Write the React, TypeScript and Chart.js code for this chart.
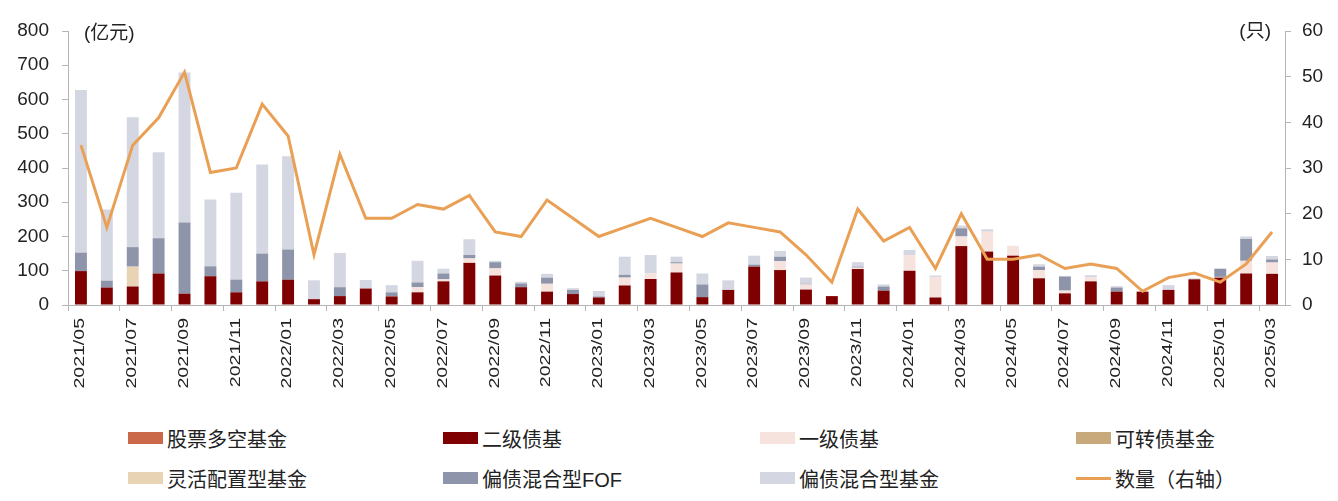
import React, { useEffect, useRef } from 'react';
import { Chart, registerables } from 'chart.js';

Chart.register(...registerables);

const categories = [
  '2021/05', '2021/06', '2021/07', '2021/08', '2021/09', '2021/10', '2021/11', '2021/12',
  '2022/01', '2022/02', '2022/03', '2022/04', '2022/05', '2022/06', '2022/07', '2022/08',
  '2022/09', '2022/10', '2022/11', '2022/12', '2023/01', '2023/02', '2023/03', '2023/04',
  '2023/05', '2023/06', '2023/07', '2023/08', '2023/09', '2023/10', '2023/11', '2023/12',
  '2024/01', '2024/02', '2024/03', '2024/04', '2024/05', '2024/06', '2024/07', '2024/08',
  '2024/09', '2024/10', '2024/11', '2024/12', '2025/01', '2025/02', '2025/03',
];

// 股票多空基金
const stockLongShort = [
  0, 0, 0, 0, 0, 0, 0, 0, 0, 0, 0, 0, 0, 0, 0, 0, 0, 0, 0, 0, 0, 0, 0, 0,
  0, 0, 0, 0, 0, 0, 0, 0, 0, 0, 0, 0, 0, 0, 0, 0, 0, 0, 0, 0, 0, 0, 0,
];
// 二级债基
const secondaryBond = [
  99, 51, 54, 92, 33, 84, 37, 69, 74, 17, 26, 48, 25, 37, 69, 123,
  86, 52, 39, 32, 22, 57, 76, 95, 23, 44, 112, 102, 45, 26, 105, 42,
  100, 22, 172, 156, 144, 78, 34, 69, 39, 39, 44, 75, 80, 92, 91,
];
// 一级债基
const primaryBond = [
  0, 0, 0, 0, 0, 0, 0, 0, 0, 0, 0, 0, 0, 15, 6, 13,
  21, 0, 23, 0, 0, 23, 16, 26, 0, 0, 0, 26, 15, 0, 4, 0,
  46, 59, 28, 58, 29, 24, 8, 12, 0, 0, 0, 0, 2, 37, 33,
];
// 可转债基金
const convertibleBond = [
  0, 0, 0, 0, 0, 0, 0, 0, 0, 0, 0, 0, 0, 0, 0, 0, 0, 0, 0, 0, 0, 0, 0, 0,
  0, 0, 0, 0, 0, 0, 0, 0, 0, 0, 0, 0, 0, 0, 0, 0, 0, 0, 0, 0, 0, 0, 0,
];
// 灵活配置型基金
const flexibleAllocation = [
  0, 0, 58, 0, 0, 0, 0, 0, 0, 0, 0, 0, 0, 0, 0, 0, 0, 0, 0, 0, 0, 0, 0, 0,
  0, 0, 0, 0, 0, 0, 0, 0, 0, 0, 0, 0, 0, 0, 0, 0, 0, 0, 0, 0, 0, 0, 0,
];
// 偏债混合型FOF
const bondMixedFof = [
  54, 20, 57, 103, 208, 29, 37, 81, 88, 0, 26, 0, 12, 14, 17, 10,
  18, 11, 18, 12, 3, 8, 0, 4, 37, 0, 6, 13, 2, 0, 3, 12,
  0, 0, 24, 0, 0, 10, 41, 0, 12, 0, 0, 0, 24, 64, 9,
];
// 偏债混合型基金
const bondMixedFund = [
  475, 208, 379, 251, 438, 195, 254, 260, 272, 55, 100, 25, 21, 63, 14, 46,
  4, 5, 11, 5, 16, 53, 54, 16, 32, 28, 26, 17, 18, 0, 13, 6,
  15, 5, 8, 7, 0, 7, 2, 6, 4, 0, 14, 3, 0, 7, 10,
];
// 数量（右轴）
const fundCount = [
  35, 17, 35, 41, 51, 29, 30, 44, 37, 11, 33, 19, 19, 22, 21, 24,
  16, 15, 23, 19, 15, 17, 19, 17, 15, 18, 17, 16, 11, 5, 21, 14,
  17, 8, 20, 10, 10, 11, 8, 9, 8, 3, 6, 7, 5, 9, 16,
];

const leftTicks = [0, 100, 200, 300, 400, 500, 600, 700, 800];
const rightTicks = [0, 10, 20, 30, 40, 50, 60];
const leftUnit = '(亿元)';
const rightUnit = '(只)';

const FONT = '"Liberation Sans", Arial, "Noto Sans CJK SC", sans-serif';

const seriesMeta = [
  { label: '股票多空基金', color: '#C9694A', data: stockLongShort },
  { label: '二级债基', color: '#7E0000', data: secondaryBond },
  { label: '一级债基', color: '#F6E3DE', data: primaryBond },
  { label: '可转债基金', color: '#C8A97C', data: convertibleBond },
  { label: '灵活配置型基金', color: '#E8D3B4', data: flexibleAllocation },
  { label: '偏债混合型FOF', color: '#8E94AA', data: bondMixedFof },
  { label: '偏债混合型基金', color: '#D4D7E1', data: bondMixedFund },
];
const lineLabel = '数量（右轴）';
const lineColor = '#E9A055';

const unitLabelPlugin = {
  id: 'unitLabels',
  afterDraw(chart: any) {
    const { ctx, chartArea } = chart;
    ctx.save();
    ctx.font = `19px ${FONT}`;
    ctx.fillStyle = '#222';
    ctx.textBaseline = 'middle';
    ctx.textAlign = 'left';
    ctx.fillText(leftUnit, chartArea.left + 16, chartArea.top + 3);
    ctx.textAlign = 'right';
    ctx.fillText(rightUnit, chartArea.right - 14, chartArea.top + 1);
    ctx.restore();
  },
};

// Draws the rotated category labels (every second month), slightly stretched along the reading direction
const xLabelPlugin = {
  id: 'xLabels',
  afterDraw(chart: any) {
    const { ctx, chartArea } = chart;
    const xs = chart.scales.x;
    ctx.save();
    ctx.font = `15.5px ${FONT}`;
    ctx.fillStyle = '#222';
    ctx.textAlign = 'right';
    ctx.textBaseline = 'middle';
    categories.forEach((lab, i) => {
      if (i % 2 !== 0) return;
      const x = xs.getPixelForValue(i);
      ctx.save();
      ctx.translate(x - 1, chartArea.bottom + 13);
      ctx.rotate(-Math.PI / 2);
      ctx.scale(1.26, 1);
      ctx.fillText(lab, 0, 0);
      ctx.restore();
    });
    ctx.restore();
  },
};

export default function App() {
  const canvasRef = useRef<HTMLCanvasElement | null>(null);

  useEffect(() => {
    if (!canvasRef.current) return;
    const datasets: any[] = seriesMeta.map((s) => ({
      type: 'bar',
      label: s.label,
      data: s.data,
      backgroundColor: s.color,
      borderWidth: 0,
      stack: 'main',
      yAxisID: 'y',
      order: 1,
      barPercentage: 0.46,
      categoryPercentage: 1,
    }));
    datasets.push({
      type: 'line',
      label: lineLabel,
      data: fundCount,
      borderColor: lineColor,
      backgroundColor: lineColor,
      borderWidth: 3,
      pointRadius: 0,
      tension: 0,
      yAxisID: 'y1',
      order: 0,
    });

    const chart = new Chart(canvasRef.current, {
      type: 'bar',
      data: { labels: categories, datasets },
      options: {
        animation: false,
        responsive: false,
        layout: { padding: { top: 31, left: 0, right: 0, bottom: 0 } },
        plugins: {
          legend: { display: false },
          tooltip: { enabled: false },
        },
        scales: {
          x: {
            stacked: true,
            offset: true,
            afterFit(scale: any) {
              scale.height = 105;
            },
            grid: {
              offset: true,
              drawOnChartArea: false,
              drawTicks: true,
              tickLength: 6,
              color: (ctx: any) => (ctx.index % 2 === 0 ? '#b5b5b5' : 'rgba(0,0,0,0)'),
            },
            border: { display: true, color: '#b5b5b5', width: 1 },
            ticks: {
              autoSkip: false,
              maxRotation: 0,
              minRotation: 0,
              padding: 2,
              color: '#222',
              font: { family: FONT, size: 12 },
              callback: () => '',
            },
          },
          y: {
            stacked: true,
            position: 'left',
            min: 0,
            max: 800,
            afterFit(scale: any) {
              scale.width = 68;
            },
            afterBuildTicks(scale: any) {
              scale.ticks = leftTicks.map((v) => ({ value: v }));
            },
            grid: { drawOnChartArea: false, drawTicks: true, tickLength: 6, color: '#b5b5b5' },
            border: { display: true, color: '#b5b5b5', width: 1 },
            ticks: {
              padding: 13,
              color: '#222',
              font: { family: FONT, size: 19 },
            },
          },
          y1: {
            position: 'right',
            min: 0,
            max: 60,
            afterFit(scale: any) {
              scale.width = 53;
            },
            afterBuildTicks(scale: any) {
              scale.ticks = rightTicks.map((v) => ({ value: v }));
            },
            grid: { drawOnChartArea: false, drawTicks: true, tickLength: 6, color: '#b5b5b5' },
            border: { display: true, color: '#b5b5b5', width: 1 },
            ticks: {
              padding: 11,
              color: '#222',
              font: { family: FONT, size: 19 },
            },
          },
        },
      },
      plugins: [unitLabelPlugin, xLabelPlugin],
    });
    return () => chart.destroy();
  }, []);

  const legendItems = [
    ...seriesMeta.map((s) => ({ label: s.label, color: s.color, line: false })),
    { label: lineLabel, color: lineColor, line: true },
  ];
  const colX = [128, 443, 760, 1076];
  const rowY = [438, 478];

  return (
    <div
      style={{
        position: 'fixed',
        left: 0,
        top: 0,
        width: 1338,
        height: 501,
        background: '#fff',
        overflow: 'hidden',
      }}
    >
      <canvas ref={canvasRef} width={1338} height={410} style={{ display: 'block' }} />
      {legendItems.map((it, i) => {
        const x = colX[i % 4];
        const y = rowY[Math.floor(i / 4)];
        return (
          <div
            key={it.label}
            style={{
              position: 'absolute',
              left: x,
              top: y - 14,
              height: 28,
              display: 'flex',
              alignItems: 'center',
              fontFamily: FONT,
              fontSize: 20,
              color: '#222',
              whiteSpace: 'nowrap',
            }}
          >
            <span
              style={{
                display: 'inline-block',
                width: 35,
                height: it.line ? 3 : 12,
                background: it.color,
                marginRight: 4,
              }}
            />
            <span>{it.label}</span>
          </div>
        );
      })}
    </div>
  );
}
